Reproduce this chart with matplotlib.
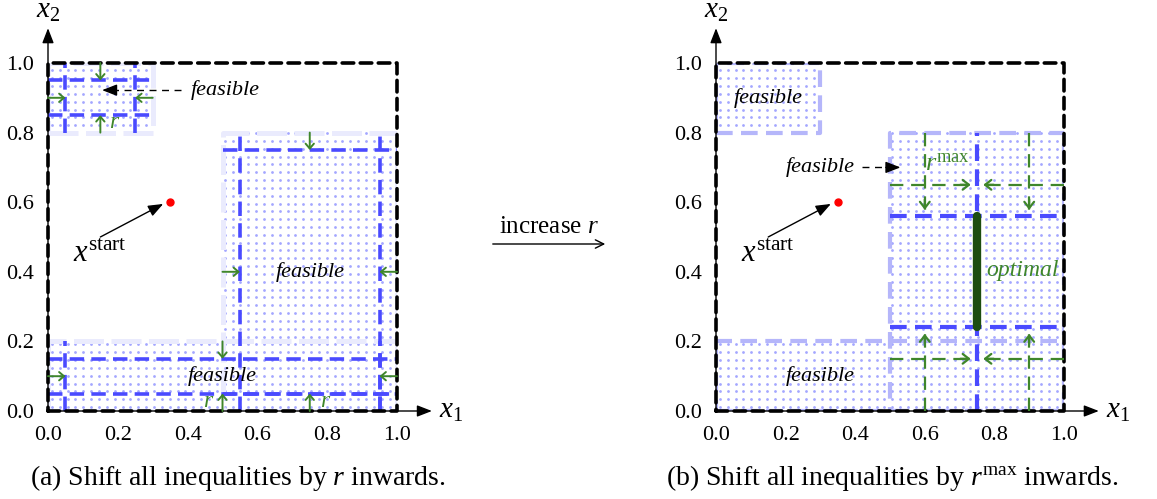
import numpy as np
import matplotlib
matplotlib.use("Agg")
import matplotlib.pyplot as plt

plt.rcParams['font.family'] = ['Liberation Serif', 'DejaVu Serif']
plt.rcParams['mathtext.fontset'] = 'custom'
plt.rcParams['mathtext.rm'] = 'Liberation Serif'
plt.rcParams['mathtext.it'] = 'Liberation Serif:italic'
plt.rcParams['mathtext.bf'] = 'Liberation Serif:bold'

# ---------------- data ----------------
ticks = [0.0, 0.2, 0.4, 0.6, 0.8, 1.0]
tick_labels = ["0.0", "0.2", "0.4", "0.6", "0.8", "1.0"]

# feasible boxes (x0, x1, y0, y1)
box_x0 = [0.0, 0.5, 0.0]
box_x1 = [0.3, 1.0, 1.0]
box_y0 = [0.8, 0.0, 0.0]
box_y1 = [1.0, 0.8, 0.2]

r_small = 0.05
x_start = (0.35, 0.6)

# left panel inward-shift arrows (x0, y0, x1, y1)
left_arrows = [
    (0.15, 1.0, 0.15, 0.95), (0.15, 0.8, 0.15, 0.85),
    (0.0, 0.9, 0.05, 0.9), (0.3, 0.9, 0.25, 0.9),
    (0.75, 0.8, 0.75, 0.75), (0.5, 0.4, 0.55, 0.4), (1.0, 0.4, 0.95, 0.4),
    (0.5, 0.2, 0.5, 0.15), (0.0, 0.1, 0.05, 0.1), (1.0, 0.1, 0.95, 0.1),
    (0.5, 0.0, 0.5, 0.05), (0.75, 0.0, 0.75, 0.05),
]
left_r_labels = [(0.19, 0.83), (0.46, 0.027), (0.795, 0.027)]
left_feasible_labels = [(0.75, 0.4), (0.5, 0.1)]

# right panel
right_vline_x = 0.75
right_vline_y = (0.0, 0.8)
right_hlines_y = [0.56, 0.24]
right_hlines_x = (0.5, 1.0)
optimal_y = (0.24, 0.56)
right_arrows = [
    (0.5, 0.65, 0.75, 0.65), (1.0, 0.65, 0.75, 0.65),
    (0.5, 0.15, 0.75, 0.15), (1.0, 0.15, 0.75, 0.15),
    (0.6, 0.8, 0.6, 0.56), (0.9, 0.8, 0.9, 0.56),
    (0.6, 0.0, 0.6, 0.24), (0.9, 0.0, 0.9, 0.24),
]
right_feasible_labels = [(0.15, 0.9), (0.3, 0.1)]

# colours
BLUE = "#4a4aff"
DOT = "#a4a7ff"
GREEN = "#3f862b"
DKGREEN = "#1d4d10"

W, H = 1157, 499
fig = plt.figure(figsize=(W / 100, H / 100), dpi=100)

ax_l = fig.add_axes([48 / W, 88 / H, 349 / W, 348 / H])
ax_r = fig.add_axes([716 / W, 88 / H, 348 / W, 348 / H])

FS = 16


def dots(ax):
    step = 0.0225
    g = np.arange(step / 2, 1.0, step)
    X, Y = np.meshgrid(g, g)
    X = X.ravel(); Y = Y.ravel()
    m = np.zeros_like(X, dtype=bool)
    for x0, x1, y0, y1 in zip(box_x0, box_x1, box_y0, box_y1):
        m |= (X > x0) & (X < x1) & (Y > y0) & (Y < y1)
    ax.scatter(X[m], Y[m], s=4.0, color=DOT, linewidths=0, zorder=1)


def box_borders(ax, color, lw, dash):
    for x0, x1, y0, y1 in zip(box_x0, box_x1, box_y0, box_y1):
        ax.plot([x0, x1, x1, x0, x0], [y0, y0, y1, y1, y0], color=color, lw=lw,
                ls=dash, dash_capstyle='butt', zorder=2)


def base(ax):
    ax.set_xlim(0, 1)
    ax.set_ylim(0, 1)
    for s in ax.spines.values():
        s.set_visible(False)
    ax.set_xticks(ticks)
    ax.set_xticklabels(tick_labels)
    ax.set_yticks(ticks)
    ax.set_yticklabels(tick_labels)
    ax.tick_params(length=0, labelsize=FS)
    ax.tick_params(axis='x', pad=11)
    ax.tick_params(axis='y', pad=10)
    # axes arrows
    ax.annotate("", xy=(1.1, 0), xytext=(0, 0), annotation_clip=False,
                arrowprops=dict(arrowstyle="-|>,head_length=0.9,head_width=0.35", color="black", lw=1.0,
                                shrinkA=0, shrinkB=0), zorder=6)
    ax.annotate("", xy=(0, 1.1), xytext=(0, 0), annotation_clip=False,
                arrowprops=dict(arrowstyle="-|>,head_length=0.9,head_width=0.35", color="black", lw=1.0,
                                shrinkA=0, shrinkB=0), zorder=6)
    ax.text(1.155, 0.0, r"$x_1$", fontsize=21, ha="center", va="center", clip_on=False)
    ax.text(0.0, 1.15, r"$x_2$", fontsize=21, ha="center", va="center", clip_on=False)
    # outer box
    ax.plot([0, 1, 1, 0, 0], [0, 0, 1, 1, 0], color="black", lw=2.6, ls=(0, (3.2, 1.8)),
            dash_capstyle='round', solid_joinstyle='round', zorder=5, clip_on=False)
    # start point
    ax.plot([x_start[0]], [x_start[1]], "o", color="red", ms=5, zorder=7, clip_on=False)
    ax.annotate("", xy=(0.33, 0.595), xytext=(0.15, 0.5),
                arrowprops=dict(arrowstyle="-|>,head_length=0.9,head_width=0.35", color="black", lw=1.0,
                                shrinkA=0, shrinkB=0), zorder=7)
    ax.text(0.15, 0.45, r"$x^{\mathrm{start}}$", fontsize=22, ha="center", va="center", zorder=7)


def dashed_pointer(ax, x0, y0, x1, y1, color, lw, headlen, style, ls):
    # dashed shaft plus solid head
    dx, dy = x1 - x0, y1 - y0
    L = np.hypot(dx, dy)
    ux, uy = dx / L, dy / L
    bx, by = x1 - ux * headlen, y1 - uy * headlen
    ax.plot([x0, bx], [y0, by], color=color, lw=lw, ls=ls, zorder=8, clip_on=False)
    ax.annotate("", xy=(x1, y1), xytext=(bx - ux * 0.002, by - uy * 0.002), annotation_clip=False,
                arrowprops=dict(arrowstyle=style, color=color, lw=lw, shrinkA=0, shrinkB=0), zorder=8)


# ---------------- left panel ----------------
base(ax_l)
dots(ax_l)
box_borders(ax_l, "#eaebfd", 3.6, (0, (6, 1.5)))
for x0, x1, y0, y1 in zip(box_x0, box_x1, box_y0, box_y1):
    r = r_small
    ax_l.plot([x0, x1], [y0 + r, y0 + r], color=BLUE, lw=2.6, ls=(0, (4, 2)), zorder=4)
    ax_l.plot([x0, x1], [y1 - r, y1 - r], color=BLUE, lw=2.6, ls=(0, (4, 2)), zorder=4)
    ax_l.plot([x0 + r, x0 + r], [y0, y1], color=BLUE, lw=2.6, ls=(0, (4, 2)), zorder=4)
    ax_l.plot([x1 - r, x1 - r], [y0, y1], color=BLUE, lw=2.6, ls=(0, (4, 2)), zorder=4)
for x0, y0, x1, y1 in left_arrows:
    ax_l.annotate("", xy=(x1, y1), xytext=(x0, y0), annotation_clip=False,
                  arrowprops=dict(arrowstyle="->,head_length=0.35,head_width=0.3", color=GREEN, lw=1.4,
                                  shrinkA=0, shrinkB=0), zorder=9)
for x, y in left_r_labels:
    ax_l.text(x, y, r"$r$", color=GREEN, fontsize=FS + 1, ha="center", va="center", zorder=9)
for x, y in left_feasible_labels:
    ax_l.text(x, y, "feasible", fontstyle="italic", fontsize=FS, ha="center", va="center", zorder=9)
ax_l.text(0.41, 0.922, "feasible", fontstyle="italic", fontsize=FS, ha="left", va="center", zorder=9,
          clip_on=False)
dashed_pointer(ax_l, 0.38, 0.922, 0.155, 0.922, "black", 1.0, 0.035,
               "-|>,head_length=0.9,head_width=0.35", (0, (5, 4)))

# ---------------- right panel ----------------
base(ax_r)
dots(ax_r)
box_borders(ax_r, "#b5b6fa", 3.0, (0, (4, 2)))
ax_r.plot([right_vline_x, right_vline_x], list(right_vline_y), color=BLUE, lw=3.0,
          ls=(0, (4, 2)), zorder=4)
for yv in right_hlines_y:
    ax_r.plot(list(right_hlines_x), [yv, yv], color=BLUE, lw=3.0, ls=(0, (4, 2)), zorder=4)
ax_r.plot([right_vline_x, right_vline_x], list(optimal_y), color=DKGREEN, lw=6,
          solid_capstyle="round", zorder=6)
for x0, y0, x1, y1 in right_arrows:
    dx, dy = x1 - x0, y1 - y0
    L = np.hypot(dx, dy)
    ux, uy = dx / L, dy / L
    tip = (x1 - ux * 0.018, y1 - uy * 0.018)
    ax_r.plot([x0, tip[0]], [y0, tip[1]], color=GREEN, lw=1.6, ls=(0, (6, 3.5)), zorder=8)
    ax_r.annotate("", xy=tip, xytext=(tip[0] - ux * 0.03, tip[1] - uy * 0.03),
                  arrowprops=dict(arrowstyle="->,head_length=0.45,head_width=0.35", color=GREEN, lw=1.6,
                                  shrinkA=0, shrinkB=0), zorder=8)
ax_r.text(0.665, 0.71, r"$r^{\mathrm{max}}$", color=GREEN, fontsize=FS + 3, ha="center",
          va="center", zorder=9)
ax_r.text(0.88, 0.405, "optimal", color=GREEN, fontstyle="italic", fontsize=FS + 1, ha="center",
          va="center", zorder=9)
for x, y in right_feasible_labels:
    ax_r.text(x, y, "feasible", fontstyle="italic", fontsize=FS, ha="center", va="center", zorder=9)
ax_r.text(0.3, 0.70, "feasible", fontstyle="italic", fontsize=FS, ha="center", va="center", zorder=9)
dashed_pointer(ax_r, 0.42, 0.70, 0.53, 0.70, "black", 1.0, 0.04,
               "-|>,head_length=0.9,head_width=0.35", (0, (5, 4)))

# ---------------- middle arrow & captions ----------------
fig.text(549 / W, 1 - 227 / H, r"increase $r$", fontsize=18, ha="center", va="center")
fig.add_artist(matplotlib.patches.FancyArrowPatch(
    (490 / W, 1 - 244 / H), (608 / W, 1 - 244 / H), transform=fig.transFigure,
    arrowstyle="->,head_length=6,head_width=3", color="black", lw=1.0))

fig.text(238 / W, 1 - 478 / H, r"(a) Shift all inequalities by $r$ inwards.", fontsize=20,
         ha="center", va="center")
fig.text(892 / W, 1 - 478 / H, r"(b) Shift all inequalities by $r^{\mathrm{max}}$ inwards.",
         fontsize=20, ha="center", va="center")

fig.savefig("out.png", dpi=100)
